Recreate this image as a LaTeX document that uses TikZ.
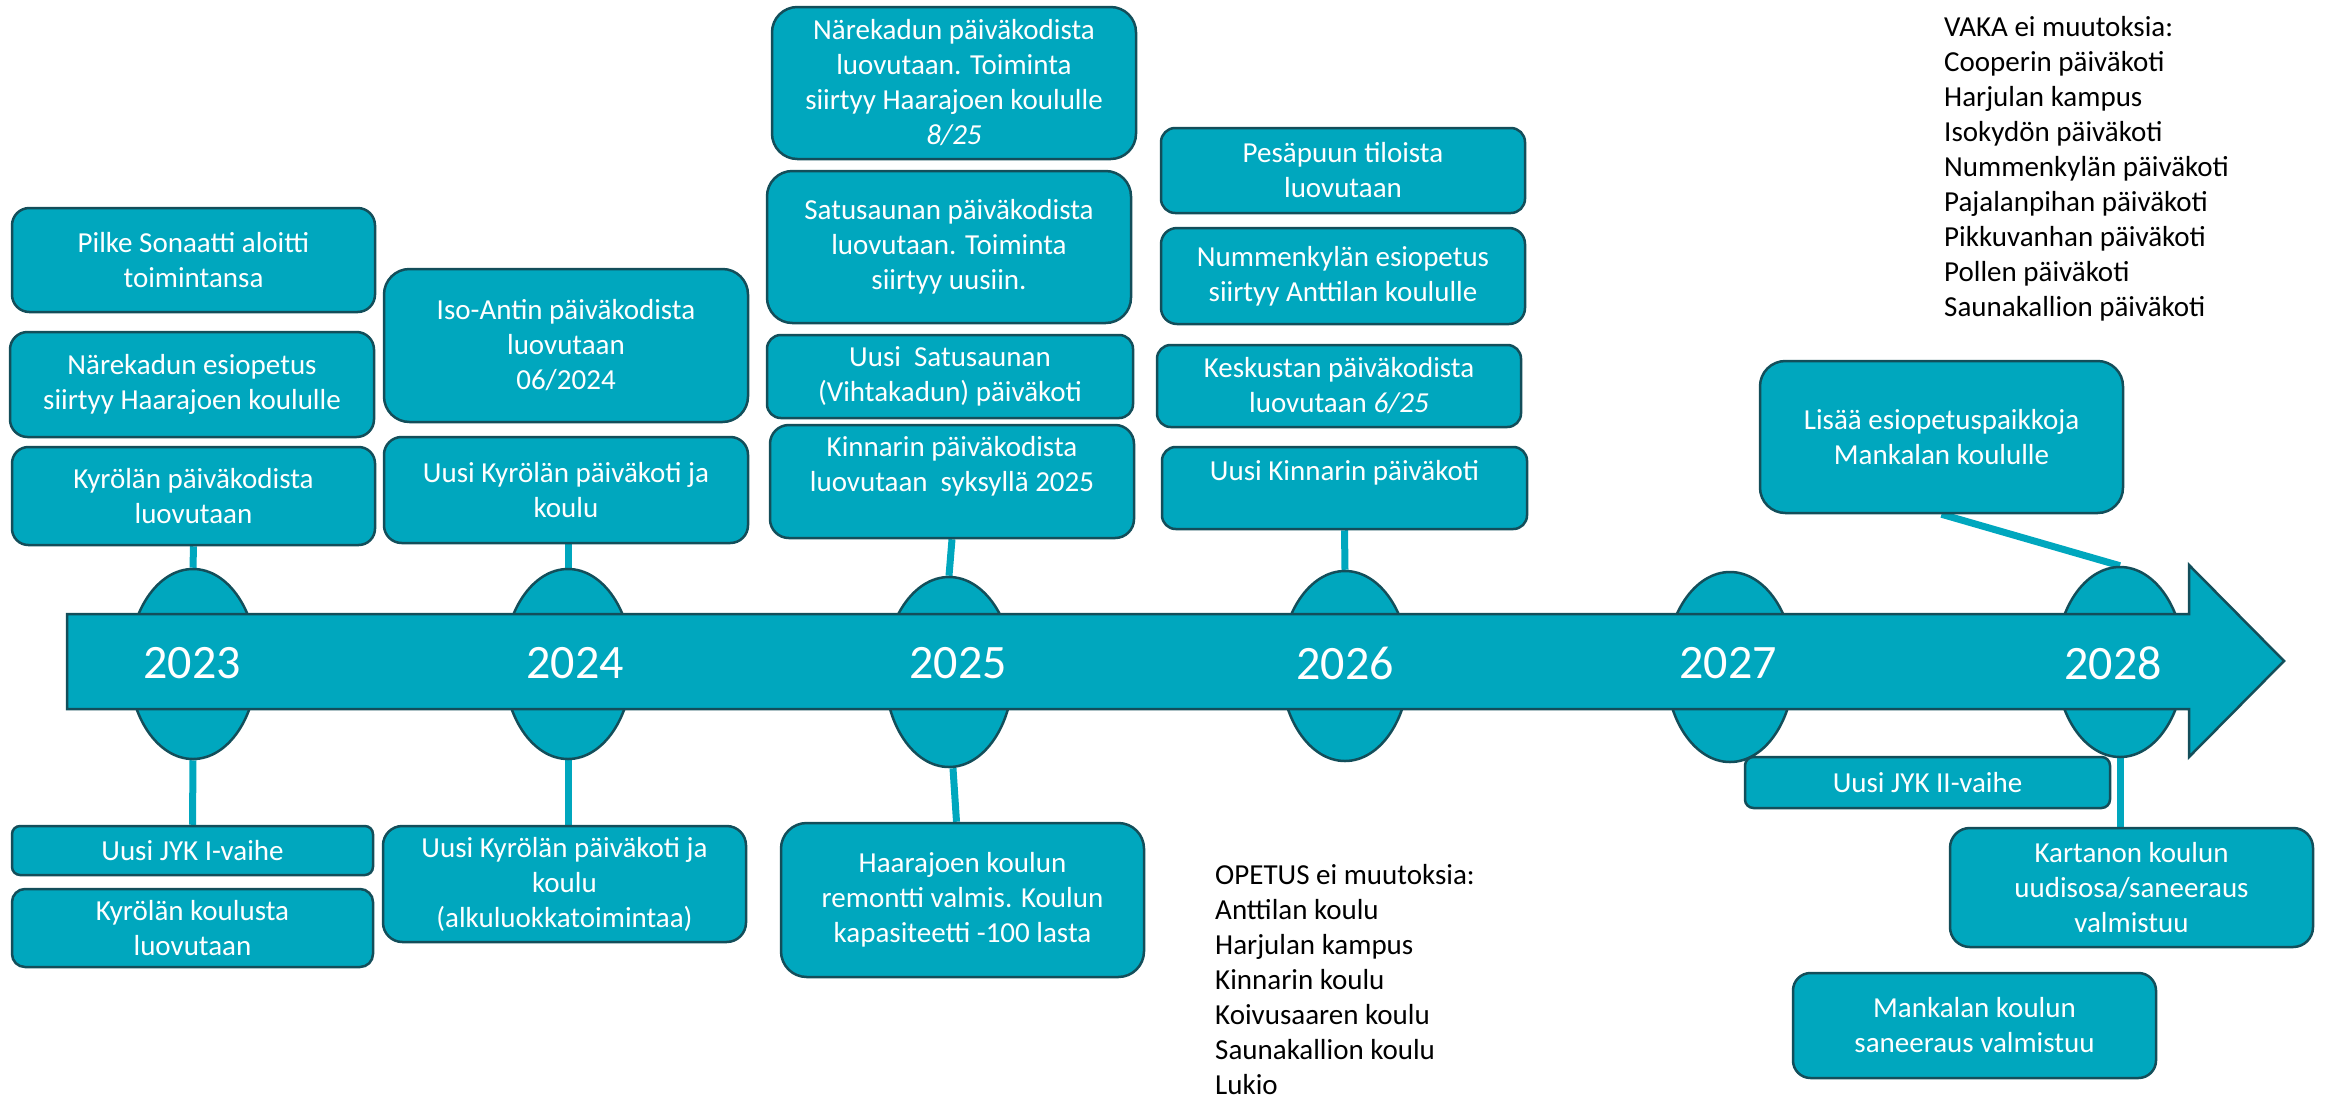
\documentclass[tikz,border=0pt]{standalone}
\usepackage{fontspec}
\setmainfont{Carlito}
\usetikzlibrary{shapes.geometric,backgrounds,calc}
\definecolor{tfill}{HTML}{00A7BE}
\definecolor{tedge}{HTML}{134E5A}
\tikzset{
  tbox/.style={draw=tedge, line width=2.5pt, fill=tfill, text=white, align=center, inner sep=0pt, font=\fontsize{29}{35}\selectfont},
  oval/.style={ellipse, draw=tedge, line width=2.5pt, fill=tfill, inner sep=0pt, minimum width=128pt, minimum height=190pt},
  conn/.style={draw=tfill, line width=7pt},
  yr/.style={text=white, font=\fontsize{48}{58}\selectfont, inner sep=0pt},
  listtxt/.style={align=left, inner sep=0pt, font=\fontsize{29}{35}\selectfont, text=black},
  arrowbody/.style={draw=tedge, line width=2.5pt, fill=tfill, line join=miter}
}
\newcommand{\tlbox}[6]{%
  \pgfmathsetmacro{\bw}{#4-#2}%
  \pgfmathsetmacro{\bh}{#5-#3}%
  \pgfmathsetmacro{\br}{0.1667*min(\bw,\bh)}%
  \node[tbox, minimum width=\bw pt, minimum height=\bh pt, rounded corners=\br pt] (#1) at ({(#2+#4)/2},{(#3+#5)/2}) {#6};%
}
\begin{document}
\begin{tikzpicture}[x=1pt, y=-1pt]
\useasboundingbox (0,0) rectangle (2330,1101);

% year ovals
\node[oval] (o2023) at (193,664) {};
\node[oval] (o2024) at (568,664) {};
\node[oval] (o2025) at (949,672) {};
\node[oval] (o2026) at (1345,666) {};
\node[oval] (o2027) at (1730,667) {};
\node[oval] (o2028) at (2120,662) {};

% timeline arrow
\draw[arrowbody] (67,614) -- (2189,614) -- (2189,565) -- (2284,661) -- (2189,757) -- (2189,709) -- (67,709) -- cycle;

% year labels
\node[yr] (y2023) at (192,663) {2023};
\node[yr] (y2024) at (575,663) {2024};
\node[yr] (y2025) at (958,663) {2025};
\node[yr] (y2026) at (1345,663) {2026};
\node[yr] (y2027) at (1728,663) {2027};
\node[yr] (y2028) at (2113,663) {2028};

% upper boxes
\tlbox{b1}{12}{208}{375}{312}{Pilke Sonaatti aloitti\\toimintansa}
\tlbox{b2}{10}{332}{374}{437}{Närekadun esiopetus\\siirtyy Haarajoen koululle}
\tlbox{b3}{12}{447}{375}{545}{Kyrölän päiväkodista\\luovutaan}
\tlbox{b4}{384}{269}{748}{422}{Iso-Antin päiväkodista\\luovutaan\\06/2024}
\tlbox{b5}{384}{437}{748}{543}{Uusi Kyrölän päiväkoti ja\\koulu}
\tlbox{b6}{772}{7}{1136}{159}{Närekadun päiväkodista\\luovutaan. Toiminta\\siirtyy Haarajoen koululle\\\textit{8/25}}
\tlbox{b7}{767}{171}{1131}{323}{Satusaunan päiväkodista\\luovutaan. Toiminta\\siirtyy uusiin.}
\tlbox{b8}{767}{335}{1133}{418}{Uusi\ \ Satusaunan\\(Vihtakadun) päiväkoti}
\tlbox{b9}{770}{425}{1134}{538}{Kinnarin päiväkodista\\luovutaan\ \ syksyllä 2025\\\mbox{}}
\tlbox{b10}{1161}{128}{1525}{213}{Pesäpuun tiloista\\luovutaan}
\tlbox{b11}{1161}{228}{1525}{324}{Nummenkylän esiopetus\\siirtyy Anttilan koululle}
\tlbox{b12}{1157}{345}{1521}{427}{Keskustan päiväkodista\\luovutaan \textit{6/25}}
\tlbox{b13}{1162}{447}{1527}{529}{Uusi Kinnarin päiväkoti\\\mbox{}}
\tlbox{b14}{1760}{361}{2123}{513}{Lisää esiopetuspaikkoja\\Mankalan koululle}

% lower boxes
\tlbox{b15}{12}{826}{373}{875}{Uusi JYK I-vaihe}
\tlbox{b16}{12}{889}{373}{967}{Kyrölän koulusta\\luovutaan}
\tlbox{b17}{383}{826}{746}{942}{Uusi Kyrölän päiväkoti ja\\koulu\\(alkuluokkatoimintaa)}
\tlbox{b18}{781}{823}{1144}{977}{Haarajoen koulun\\remontti valmis. Koulun\\kapasiteetti -100 lasta}
\tlbox{b19}{1745}{757}{2110}{808}{Uusi JYK II-vaihe}
\tlbox{b20}{1950}{828}{2313}{947}{Kartanon koulun\\uudisosa/saneeraus\\valmistuu}
\tlbox{b21}{1793}{973}{2156}{1078}{Mankalan koulun\\saneeraus valmistuu}

% connectors
\begin{pgfonlayer}{background}
\draw[conn] (b3.south) -- (o2023.north);
\draw[conn] (o2023.south) -- (b15.north);
\draw[conn] (o2024.north |- b5.south) -- (o2024.north);
\draw[conn] (o2024.south) -- (o2024.south |- b17.north);
\draw[conn] (b9.south) -- (o2025.north);
\draw[conn] ([xshift=4pt]o2025.south) -- ([xshift=-6pt]b18.north);
\draw[conn] (b13.south) -- (o2026.north);
\draw[conn] (b14.south) -- (o2028.north);
\draw[conn] (o2028.south) -- (o2028.south |- b20.north);
\end{pgfonlayer}

% lists (anchor = baseline of last line)
\node[listtxt, anchor=base west] (vaka) at (1944,316) {VAKA ei muutoksia:\\Cooperin päiväkoti\\Harjulan kampus\\Isokydön päiväkoti\\Nummenkylän päiväkoti\\Pajalanpihan päiväkoti\\Pikkuvanhan päiväkoti\\Pollen päiväkoti\\Saunakallion päiväkoti};
\node[listtxt, anchor=base west] (opetus) at (1215,1094) {OPETUS ei muutoksia:\\Anttilan koulu\\Harjulan kampus\\Kinnarin koulu\\Koivusaaren koulu\\Saunakallion koulu\\Lukio};
\end{tikzpicture}
\end{document}
